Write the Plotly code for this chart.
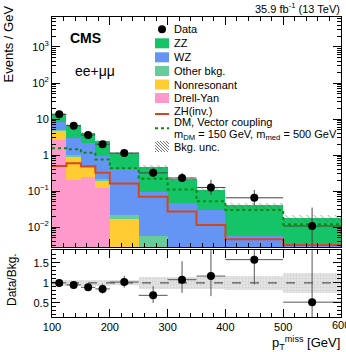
import numpy as np
import plotly.graph_objects as go

# ---------------- data ----------------
edges = [100, 125, 150, 175, 200, 250, 300, 350, 400, 500, 600]

drell_yan   = [2.7, 0.2, 0.25, 0.12, 0.0, 0.0, 0.0, 0.0, 0.0, 0.0]
nonres      = [2.2, 0.7, 0.2, 0.07, 0.017, 0.0, 0.0, 0.0, 0.0, 0.0]
other_bkg   = [0.2, 0.08, 0.05, 0.03, 0.005, 0.0055, 0.002, 0.001, 0.0005, 0.0003]
wz          = [3.0, 2.0, 1.6, 0.73, 0.38, 0.09, 0.046, 0.029, 0.005, 0.0031]
zz          = [5.7, 3.9, 1.95, 1.45, 0.75, 0.375, 0.17, 0.08, 0.0345, 0.0146]
bkg_unc_rel = [0.08, 0.08, 0.08, 0.08, 0.06, 0.15, 0.15, 0.15, 0.18, 0.24]

zh_inv  = [0.5, 0.59, 0.49, 0.32, 0.163, 0.069, 0.027, 0.0114, 0.0046, 0.0032]
dm_vec  = [1.55, 1.45, 1.16, 0.75, 0.43, 0.22, 0.11, 0.052, 0.03, 0.012]

data      = [13.6, 6.5, 3.6, 2.0, 1.14, 0.32, 0.23, 0.126, 0.065, 0.0107]
data_up   = [0.7, 0.5, 0.4, 0.3, 0.1, 0.11, 0.09, 0.08, 0.042, 0.024]
data_dn   = [0.7, 0.5, 0.4, 0.3, 0.1, 0.08, 0.05, 0.048, 0.024, 0.0105]

ratio     = [1.0, 0.95, 0.89, 0.85, 1.02, 0.69, 1.08, 1.17, 1.58, 0.52]
ratio_up  = [0.04, 0.05, 0.06, 0.13, 0.16, 0.23, 0.46, 0.7, 0.7, 1.5]
ratio_dn  = [0.04, 0.05, 0.06, 0.12, 0.14, 0.19, 0.33, 0.5, 0.62, 0.52]

x_ticks = [100, 200, 300, 400, 500, 600]
y_ticks = [0.01, 0.1, 1, 10, 100, 1000]
y_ticktext = ["10<sup>\u22122</sup>", "10<sup>\u22121</sup>", "1", "10",
              "10<sup>2</sup>", "10<sup>3</sup>"]
r_ticks = [0.5, 1, 1.5]

# ---------------- styles ----------------
FONT = "Liberation Sans, Arial, sans-serif"
C_ZZ, C_WZ, C_OT, C_NR, C_DY = "#14c466", "#6495f5", "#66cc99", "#ffcc33", "#ff99cc"
C_ZH, C_DM = "#d2481e", "#0a8a0a"

W, H = 346, 352
L, R, T, B = 52, 5, 17, 35


def px(x):
    return (x - L) / (W - L - R)


def py(y):
    return (H - B - y) / (H - T - B)


e = np.array(edges, dtype=float)
centers = 0.5 * (e[1:] + e[:-1])
widths = e[1:] - e[:-1]
half = widths / 2

layers = [(drell_yan, C_DY), (nonres, C_NR), (other_bkg, C_OT), (wz, C_WZ), (zz, C_ZZ)]
total = np.sum([np.array(v) for v, _ in layers], axis=0)

fig = go.Figure()

base = np.full(len(centers), 1e-5)
for vals, col in layers:
    v = np.array(vals)
    fig.add_trace(go.Bar(x=centers, y=v, base=base, width=widths, marker=dict(color=col, line_width=0),
                         opacity=1, xaxis="x", yaxis="y", hoverinfo="skip"))
    base = base + v

unc = np.array(bkg_unc_rel)
fig.add_trace(go.Bar(x=centers, y=2 * unc * total, base=total * (1 - unc), width=widths,
                     marker=dict(color="rgba(0,0,0,0)", line_width=0,
                                 pattern=dict(shape="\\", fgcolor="#666", bgcolor="rgba(0,0,0,0)",
                                              size=5, solidity=0.2)),
                     xaxis="x", yaxis="y", hoverinfo="skip"))

fig.add_trace(go.Scatter(x=e, y=list(zh_inv) + [zh_inv[-1]], mode="lines", line_shape="hv",
                         line=dict(color=C_ZH, width=2), xaxis="x", yaxis="y"))
fig.add_trace(go.Scatter(x=e, y=list(dm_vec) + [dm_vec[-1]], mode="lines", line_shape="hv",
                         line=dict(color=C_DM, width=2, dash="dot"), xaxis="x", yaxis="y"))

fig.add_trace(go.Scatter(x=centers, y=data, mode="markers",
                         marker=dict(color="black", size=8),
                         error_x=dict(type="data", array=half, color="#444", thickness=1, width=0),
                         error_y=dict(type="data", array=data_up, arrayminus=data_dn, color="#444",
                                      thickness=1, width=0),
                         xaxis="x", yaxis="y"))

# ratio panel
fig.add_trace(go.Bar(x=centers, y=2 * unc, base=1 - unc, width=widths,
                     marker=dict(color="rgba(200,200,200,0.55)", line_width=0,
                                 pattern=dict(shape=".", fgcolor="#bdbdbd", bgcolor="#e4e4e4",
                                              size=3, solidity=0.3)),
                     xaxis="x2", yaxis="y2", hoverinfo="skip"))
fig.add_trace(go.Scatter(x=[edges[0], edges[-1]], y=[1, 1], mode="lines",
                         line=dict(color="#333", width=1, dash="dash"), xaxis="x2", yaxis="y2"))
fig.add_trace(go.Scatter(x=centers, y=ratio, mode="markers",
                         marker=dict(color="black", size=8),
                         error_x=dict(type="data", array=half, color="#555", thickness=1, width=0),
                         error_y=dict(type="data", array=ratio_up, arrayminus=ratio_dn, color="#555",
                                      thickness=1, width=0),
                         xaxis="x2", yaxis="y2"))

axc = dict(showline=True, linecolor="black", linewidth=1, mirror="allticks", ticks="inside",
           ticklen=8, tickcolor="black", showgrid=False, zeroline=False,
           tickfont=dict(size=11, family=FONT, color="black"))

minor_log = [m * 10.0 ** k for k in range(-3, 4) for m in range(2, 10)]

fig.update_layout(
    width=W, height=H, margin=dict(l=L, r=R, t=T, b=B),
    paper_bgcolor="white", plot_bgcolor="white",
    showlegend=False, barmode="overlay", bargap=0,
    xaxis=dict(axc, range=[edges[0], edges[-1]], anchor="y", domain=[0, 1],
               showticklabels=False, tickvals=x_ticks,
               minor=dict(ticks="inside", ticklen=4, dtick=20, tickcolor="black")),
    yaxis=dict(axc, type="log", range=[np.log10(0.0028), np.log10(6800)], domain=[py(247), 1],
               anchor="x", tickmode="array", tickvals=y_ticks, ticktext=y_ticktext,
               minor=dict(ticks="inside", ticklen=4, tickmode="array", tickvals=minor_log,
                          tickcolor="black")),
    xaxis2=dict(axc, range=[edges[0], edges[-1]], anchor="y2", domain=[0, 1],
                tickvals=x_ticks, ticktext=[str(v) if v != x_ticks[-1] else "" for v in x_ticks],
                minor=dict(ticks="inside", ticklen=4, dtick=20, tickcolor="black")),
    yaxis2=dict(axc, range=[0.15, 1.82], domain=[0, py(250)], anchor="x2",
                tickvals=r_ticks, ticktext=["0.5", "1", "1.5"],
                minor=dict(ticks="inside", ticklen=4, dtick=0.1, tickcolor="black")),
)

ann = []
shapes = []


def text(x, y, s, size=11, xa="left", ya="middle", angle=0, bold=False):
    ann.append(dict(x=px(x), y=py(y), xref="paper", yref="paper", text=("<b>%s</b>" % s) if bold else s,
                    showarrow=False, xanchor=xa, yanchor=ya, textangle=angle,
                    font=dict(size=size, family=FONT, color="black")))


text(342, 8, "35.9 fb<sup>-1</sup> (13 TeV)", size=11, xa="right")
text(68, 38, "CMS", size=14, bold=True)
text(73, 71, "ee+\u03bc\u03bc", size=14)
text(8, 4, "Events / GeV", size=13, xa="center", ya="top", angle=-90)
text(12, 280, "Data/Bkg.", size=12, xa="center", angle=-90)
text(342, 343, "p<sub>T</sub><sup>miss</sup> [GeV]", size=13, xa="right")
# last x tick label (clipped at the page edge as in the reference)
ann.append(dict(x=x_ticks[-1], y=py(325), xref="x2", yref="paper", text=str(x_ticks[-1]),
                showarrow=False, xanchor="center", yanchor="middle",
                font=dict(size=11, family=FONT, color="black")))

# legend
LX0, LX1, TX = 155, 169, 172
shapes.append(dict(type="circle", xref="paper", yref="paper", x0=px(158), x1=px(166),
                   y0=py(33.3), y1=py(25.3), fillcolor="black", line=dict(width=0)))
text(TX, 29.3, "Data")
for yc, col, name in [(43.3, C_ZZ, "ZZ"), (57.3, C_WZ, "WZ"), (71.0, C_OT, "Other bkg."),
                      (84.5, C_NR, "Nonresonant"), (98.0, C_DY, "Drell-Yan")]:
    shapes.append(dict(type="rect", xref="paper", yref="paper", x0=px(LX0), x1=px(LX1),
                       y0=py(yc + 5), y1=py(yc - 5), fillcolor=col, line=dict(width=0)))
    text(TX, yc, name)
shapes.append(dict(type="line", xref="paper", yref="paper", x0=px(LX0), x1=px(LX1),
                   y0=py(114), y1=py(114), line=dict(color=C_ZH, width=2)))
text(TX, 111.5, "ZH(inv.)")
text(TX, 122, "DM, Vector coupling")
shapes.append(dict(type="line", xref="paper", yref="paper", x0=px(LX0), x1=px(LX1),
                   y0=py(128.3), y1=py(128.3), line=dict(color=C_DM, width=2, dash="dot")))
text(TX, 135, "m<sub>DM</sub> = 150 GeV, m<sub>med</sub> = 500 GeV")
text(TX, 146.7, "Bkg. unc.")
# hatch box for legend
hy0, hy1 = 141.0, 152.0
for d in np.arange(-10, 14, 3.0):
    xa_, ya_ = LX0 + d, hy0
    xb_, yb_ = LX0 + d + (hy1 - hy0), hy1
    if xa_ < LX0:
        ya_ += LX0 - xa_
        xa_ = LX0
    if xb_ > LX1:
        yb_ -= xb_ - LX1
        xb_ = LX1
    if xb_ > xa_:
        shapes.append(dict(type="line", xref="paper", yref="paper", x0=px(xa_), x1=px(xb_),
                           y0=py(ya_), y1=py(yb_), line=dict(color="#777", width=1)))

fig.update_layout(annotations=ann, shapes=shapes)
fig.write_html("out.html")
